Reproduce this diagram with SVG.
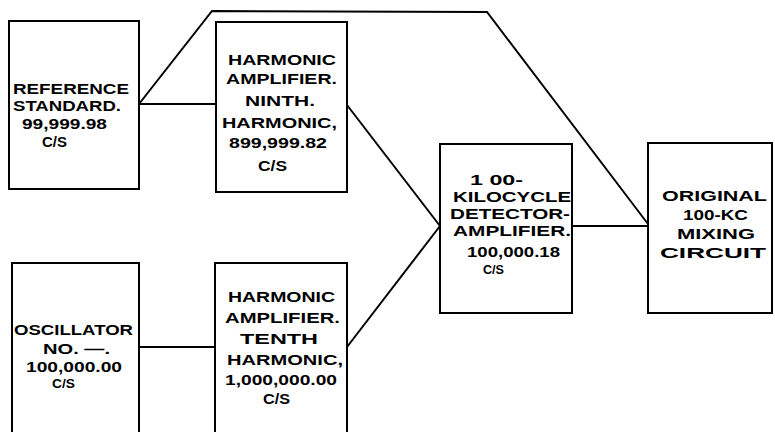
<svg xmlns="http://www.w3.org/2000/svg" width="775" height="432" viewBox="0 0 775 432">
<style>
.box{fill:#fff;stroke:#000;stroke-width:2}
.wire{fill:none;stroke:#000;stroke-width:2;stroke-linejoin:miter}
text{font-family:"Liberation Sans",Arial,sans-serif;font-weight:bold;font-size:14px;fill:#000}
.sm{font-size:12px}
</style>
<rect width="775" height="432" fill="#fff"/>
<g id="connectors">
<polyline class="wire" points="139,104 212,11 487,12 648,224"/>
<line class="wire" x1="139" y1="104" x2="216" y2="104"/>
<line class="wire" x1="347" y1="105" x2="440" y2="226"/>
<line class="wire" x1="347" y1="347" x2="440" y2="226"/>
<line class="wire" x1="572" y1="226" x2="648" y2="226"/>
<line class="wire" x1="139" y1="347" x2="215" y2="347"/>
</g>
<g id="reference-standard">
<rect class="box" x="9" y="21" width="130" height="168"/>
<text x="13" y="94" textLength="116" lengthAdjust="spacingAndGlyphs">REFERENCE</text>
<text x="13" y="111" textLength="108" lengthAdjust="spacingAndGlyphs">STANDARD.</text>
<text x="22" y="129" textLength="85" lengthAdjust="spacingAndGlyphs">99,999.98</text>
<text x="42" y="147" textLength="25" lengthAdjust="spacingAndGlyphs">C/S</text>
</g>
<g id="ninth-harmonic-amplifier">
<rect class="box" x="216" y="22" width="131" height="170"/>
<text x="228" y="65" textLength="108" lengthAdjust="spacingAndGlyphs">HARMONIC</text>
<text x="226" y="84" textLength="111" lengthAdjust="spacingAndGlyphs">AMPLIFIER.</text>
<text x="245" y="106" textLength="70" lengthAdjust="spacingAndGlyphs">NINTH.</text>
<text x="222" y="128" textLength="115" lengthAdjust="spacingAndGlyphs">HARMONIC,</text>
<text x="229" y="148" textLength="98" lengthAdjust="spacingAndGlyphs">899,999.82</text>
<text x="258" y="171" textLength="29" lengthAdjust="spacingAndGlyphs">C/S</text>
</g>
<g id="detector-amplifier">
<rect class="box" x="440" y="144" width="132" height="169"/>
<text x="470" y="185" textLength="53" lengthAdjust="spacingAndGlyphs">1 00-</text>
<text x="453" y="202" textLength="118" lengthAdjust="spacingAndGlyphs">KILOCYCLE</text>
<text x="450" y="219" textLength="120" lengthAdjust="spacingAndGlyphs">DETECTOR-</text>
<text x="453" y="236" textLength="118" lengthAdjust="spacingAndGlyphs">AMPLIFIER.</text>
<text x="467" y="257" textLength="93" lengthAdjust="spacingAndGlyphs">100,000.18</text>
<text class="sm" x="483" y="274" textLength="21" lengthAdjust="spacingAndGlyphs">C/S</text>
</g>
<g id="original-mixing-circuit">
<rect class="box" x="648" y="143" width="124" height="170"/>
<text x="662" y="201" textLength="105" lengthAdjust="spacingAndGlyphs">ORIGINAL</text>
<text x="683" y="220" textLength="65" lengthAdjust="spacingAndGlyphs">100-KC</text>
<text x="677" y="239" textLength="78" lengthAdjust="spacingAndGlyphs">MIXING</text>
<text x="660" y="258" textLength="106" lengthAdjust="spacingAndGlyphs">CIRCUIT</text>
</g>
<g id="oscillator">
<rect class="box" x="12" y="263" width="127" height="180"/>
<text x="14" y="335" textLength="119" lengthAdjust="spacingAndGlyphs">OSCILLATOR</text>
<text x="43" y="354" textLength="67" lengthAdjust="spacingAndGlyphs">NO. —.</text>
<text x="26" y="372" textLength="96" lengthAdjust="spacingAndGlyphs">100,000.00</text>
<text class="sm" x="52" y="388" textLength="23" lengthAdjust="spacingAndGlyphs">C/S</text>
</g>
<g id="tenth-harmonic-amplifier">
<rect class="box" x="215" y="263" width="132" height="180"/>
<text x="228" y="302" textLength="107" lengthAdjust="spacingAndGlyphs">HARMONIC</text>
<text x="225" y="323" textLength="115" lengthAdjust="spacingAndGlyphs">AMPLIFIER.</text>
<text x="240" y="344" textLength="78" lengthAdjust="spacingAndGlyphs">TENTH</text>
<text x="227" y="365" textLength="116" lengthAdjust="spacingAndGlyphs">HARMONIC,</text>
<text x="225" y="385" textLength="112" lengthAdjust="spacingAndGlyphs">1,000,000.00</text>
<text x="263" y="404" textLength="27" lengthAdjust="spacingAndGlyphs">C/S</text>
</g>
</svg>
